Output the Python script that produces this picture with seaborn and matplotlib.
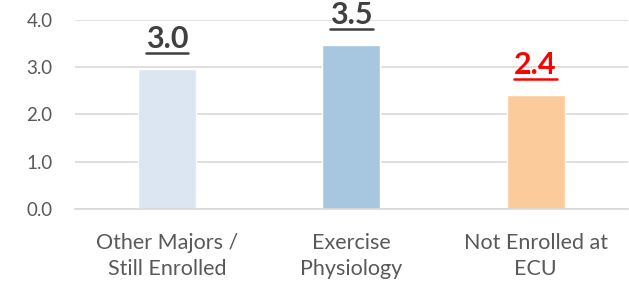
import matplotlib
matplotlib.use('Agg')
import matplotlib.pyplot as plt
from matplotlib.lines import Line2D
import seaborn as sns
import pandas as pd

# values
groups = ['Other Majors /\nStill Enrolled', 'Exercise\nPhysiology', 'Not Enrolled at\nECU']
scores = [2.96, 3.47, 2.41]
bar_colors = ['#DCE6F2', '#A7C7E0', '#FCCB9C']
label_colors = ['#404040', '#404040', '#FF0000']
yticks = [0.0, 1.0, 2.0, 3.0, 4.0]

sns.set_theme(style='white')
plt.rcParams['font.family'] = ['Lato', 'DejaVu Sans']

df = pd.DataFrame({'group': groups, 'score': scores})

fig = plt.figure(figsize=(6.29, 2.85), dpi=100)
ax = fig.add_axes([0.119, 0.2667, 0.879, 0.6633])

sns.barplot(data=df, x='group', y='score', hue='group', palette=bar_colors,
            width=0.315, legend=False, ax=ax, saturation=1)

ax.set_ylim(0, 4)
ax.set_yticks(yticks)
ax.set_yticklabels([f'{t:.1f}' for t in yticks])
ax.grid(axis='y', color='#D9D9D9', linewidth=1.2)
ax.set_axisbelow(True)
for s in ['top', 'right', 'left']:
    ax.spines[s].set_visible(False)
ax.spines['bottom'].set_color('#D9D9D9')
ax.spines['bottom'].set_linewidth(1.2)
ax.tick_params(axis='y', length=0, pad=16, labelsize=13.5, labelcolor='#595959')
ax.tick_params(axis='x', length=0, pad=17, labelsize=15.5, labelcolor='#595959')
for lbl in ax.get_xticklabels():
    lbl.set_linespacing(1.42)
ax.set_xlabel('')
ax.set_ylabel('')

# bold value labels, underlined like the original
off = 15  # points above bar top to text baseline
texts = []
for i, (v, c) in enumerate(zip(scores, label_colors)):
    t = ax.annotate(f'{v:.1f}', xy=(i, v), xytext=(0, off),
                    textcoords='offset points', ha='center', va='baseline',
                    fontsize=22, fontweight='bold', color=c, annotation_clip=False)
    texts.append(t)

fig.canvas.draw()
r = fig.canvas.get_renderer()
for i, (t, v, c) in enumerate(zip(texts, scores, label_colors)):
    bb = t.get_window_extent(r)
    base = ax.transData.transform((i, v))[1] + off * fig.dpi / 72
    y = base - 4.5
    fig.add_artist(Line2D([bb.x0, bb.x1], [y, y], transform=None, color=c, linewidth=1.8))

fig.savefig('out.png', dpi=100)
